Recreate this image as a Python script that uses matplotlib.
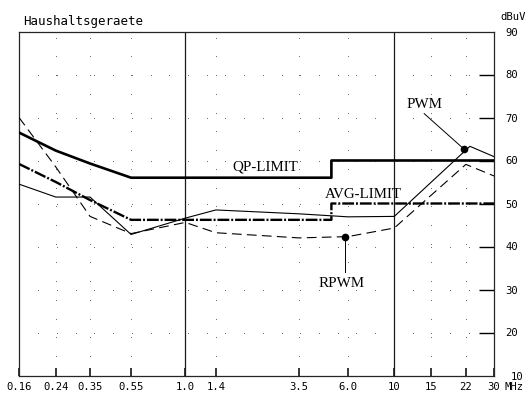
import numpy as np
import matplotlib
matplotlib.use('Agg')
import matplotlib.pyplot as plt
import matplotlib.transforms as mtransforms

plt.rcParams['lines.scale_dashes'] = False

# axis ticks
freq_ticks = [0.16, 0.24, 0.35, 0.55, 1.0, 1.4, 3.5, 6.0, 10, 15, 22, 30]
freq_labels = ['0.16', '0.24', '0.35', '0.55', '1.0', '1.4', '3.5', '6.0', '10', '15', '22', '30']
db_ticks = [20, 30, 40, 50, 60, 70, 80, 90]

# limits (QP and AVG)
qp_f = [0.16, 0.24, 0.35, 0.55, 5.0, 5.0, 30]
qp_db = [66.5, 62.3, 59.3, 56.0, 56.0, 60.0, 60.0]
avg_f = [0.16, 0.24, 0.35, 0.55, 5.0, 5.0, 30]
avg_db = [59.2, 55.0, 50.8, 46.2, 46.2, 50.0, 50.0]

# measured curves
pwm_f = [0.16, 0.24, 0.35, 0.55, 1.0, 1.4, 3.5, 6.0, 10, 23, 30]
pwm_db = [54.5, 51.5, 51.5, 42.8, 46.6, 48.5, 47.6, 46.9, 47.0, 63.3, 60.9]
rpwm_f = [0.16, 0.24, 0.35, 0.55, 1.0, 1.4, 3.5, 6.0, 10, 22, 30]
rpwm_db = [70.0, 58.5, 47.0, 43.0, 45.6, 43.2, 42.0, 42.3, 44.3, 59.1, 56.4]

# marked points
pwm_mark = (21.5, 62.7)
rpwm_mark = (5.8, 42.3)

fig = plt.figure(figsize=(5.26, 3.96), dpi=100)
ax = fig.add_axes([19/526, 1-375.5/396, 475/526, 344/396])
ax.set_xscale('log')
ax.set_xlim(0.16, 30)
ax.set_ylim(10, 90)

for s in ax.spines.values():
    s.set_linewidth(0.9)
    s.set_color('0.15')

# dotted grid (scanned sheet look)
col_f = [0.24, 0.35, 0.55, 1.4, 3.5, 6.0, 15, 22]
col_y = 88.6 - np.arange(18) * 4.36
for f in col_f:
    ax.scatter([f]*len(col_y), col_y, s=0.5, c='0.4', lw=0, zorder=1)
trans = mtransforms.blended_transform_factory(ax.transAxes, ax.transData)
row_x = 0.0406 + np.arange(25) * 0.0394
for yv in [20, 30, 40, 50, 60, 70, 80]:
    ax.scatter(row_x, [yv]*len(row_x), s=0.5, c='0.4', lw=0, transform=trans, zorder=1)

# full-height lines at 1 and 10 MHz
for f in [1.0, 10]:
    ax.axvline(f, color='0.1', lw=0.9, zorder=2)

ax.plot(qp_f, qp_db, color='black', lw=1.9, zorder=4)
ax.plot(avg_f, avg_db, color='black', lw=1.7, dashes=(8.5, 1.4, 1.4, 1.4), zorder=4)
ax.plot(pwm_f, pwm_db, color='black', lw=0.8, zorder=5)
ax.plot(rpwm_f, rpwm_db, color='black', lw=0.8, dashes=(7, 3.8), zorder=5)

ax.plot(*pwm_mark, 'o', color='black', ms=4.5, zorder=6)
ax.plot(*rpwm_mark, 'o', color='black', ms=4.5, zorder=6)
ax.plot([13.9, pwm_mark[0]], [70.9, pwm_mark[1]], color='black', lw=0.7, zorder=6)
ax.plot([rpwm_mark[0], rpwm_mark[0]], [rpwm_mark[1], 34.0], color='black', lw=0.7, zorder=6)

serif = 'Liberation Serif'
ax.text(2.41, 58.6, 'QP-LIMIT', family=serif, fontsize=10.8, ha='center', va='center')
ax.text(7.1, 52.2, 'AVG-LIMIT', family=serif, fontsize=10.8, ha='center', va='center')
ax.text(13.9, 73.1, 'PWM', family=serif, fontsize=10.8, ha='center', va='center')
ax.text(5.6, 31.5, 'RPWM', family=serif, fontsize=10.8, ha='center', va='center')

mono = 'DejaVu Sans Mono'
ax.set_xticks(freq_ticks)
ax.set_xticklabels(freq_labels, family=mono, fontsize=7.6)
ax.xaxis.set_minor_locator(matplotlib.ticker.NullLocator())
ax.tick_params(axis='x', direction='in', length=6, width=1.1, pad=4.5)

ax.yaxis.tick_right()
ax.set_yticks(db_ticks)
ax.set_yticklabels([str(v) for v in db_ticks], family=mono, fontsize=7.6)
ax.tick_params(axis='y', direction='in', length=10.5, width=1.0, pad=8)
ax.yaxis.get_major_ticks()[-1].tick2line.set_visible(False)

ax.text(1.0 + 17/475, -0.005, '10', transform=ax.transAxes, family=mono, fontsize=7.6,
        ha='left', va='center')
ax.text(1.0 + 11/475, -0.033, 'MHz', transform=ax.transAxes, family=mono, fontsize=7.6,
        ha='left', va='center')

fig.text(23/526, 1-21/396, 'Haushaltsgeraete', family=mono, fontsize=9, ha='left', va='center')
fig.text(500/526, 1-17.5/396, 'dBuV', family=mono, fontsize=7.6, ha='left', va='center')

fig.savefig('out.png', dpi=100, facecolor='white')
